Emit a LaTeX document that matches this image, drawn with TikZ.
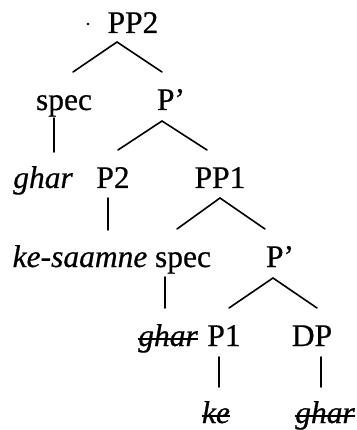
\documentclass[tikz,border=0pt]{standalone}
\usepackage{fontspec}
\setmainfont{Liberation Serif}[FakeBold=0.6]
\tikzset{
  lab/.style={anchor=base, inner sep=0pt, font=\fontsize{31.5}{38}\selectfont},
  edge/.style={line width=1.6pt, line cap=round},
  strike/.style={line width=1.6pt}
}
\begin{document}
\begin{tikzpicture}[x=1pt, y=-1pt]
\useasboundingbox (0,0) rectangle (356,430);
% nodes (base points in image coordinates)
\node[circle, fill, inner sep=0pt, minimum size=2.8pt] (dot) at (88,24) {};
\node[lab] (PP2) at (133,33) {PP2};
\node[lab] (spec1) at (64,110) {spec};
\node[lab] (Pb1) at (171,110) {P’};
\node[lab] (ghar1) at (43,188) {\itshape ghar};
\node[lab] (P2) at (113,188) {P2};
\node[lab] (PP1) at (220,188) {PP1};
\node[lab] (ks) at (80,267) {\itshape ke-saamne};
\node[lab] (spec2) at (183,267) {spec};
\node[lab] (Pb2) at (280,267) {P’};
\node[lab] (ghar2) at (168,346) {\itshape ghar};
\node[lab] (P1) at (224,346) {P1};
\node[lab] (DP) at (312,346) {DP};
\node[lab] (ke) at (216,423) {\itshape ke};
\node[lab] (ghar3) at (325,423) {\itshape ghar};
% strike-through of the deleted copies
\draw[strike] ([shift={(0,-7)}]ghar2.base west) -- ([shift={(0,-7)}]ghar2.base east);
\draw[strike] ([shift={(0,-7)}]ke.base west) -- ([shift={(0,-7)}]ke.base east);
\draw[strike] ([shift={(0,-7)}]ghar3.base west) -- ([shift={(0,-7)}]ghar3.base east);
% connectors
\draw[edge] ([shift={(9,-38)}]spec1.base) -- ([shift={(-16,9)}]PP2.base) -- ([shift={(-9,-38)}]Pb1.base);
\draw[edge] ([shift={(-10,8)}]spec1.base) -- ([shift={(11,-36)}]ghar1.base);
\draw[edge] ([shift={(5,-38)}]P2.base) -- ([shift={(-9,11)}]Pb1.base) -- ([shift={(-13,-38)}]PP1.base);
\draw[edge] ([shift={(-5,10)}]P2.base) -- ([shift={(28,-37)}]ks.base);
\draw[edge] ([shift={(-6,-38)}]spec2.base) -- ([shift={(0,10)}]PP1.base) -- ([shift={(-15,-38)}]Pb2.base);
\draw[edge] ([shift={(-18,10)}]spec2.base) -- ([shift={(-3,-38)}]ghar2.base);
\draw[edge] ([shift={(5,-38)}]P1.base) -- ([shift={(-7,11)}]Pb2.base) -- ([shift={(5,-38)}]DP.base);
\draw[edge] ([shift={(-5,11)}]P1.base) -- ([shift={(3,-36)}]ke.base);
\draw[edge] ([shift={(9,11)}]DP.base) -- ([shift={(-4,-36)}]ghar3.base);
\end{tikzpicture}
\end{document}
